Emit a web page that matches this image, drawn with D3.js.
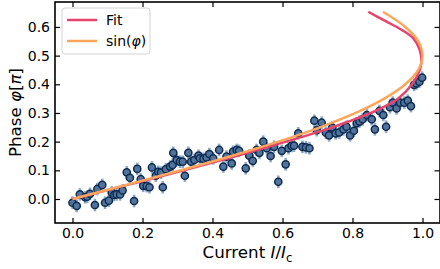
<!DOCTYPE html>
<html>
<head>
<meta charset="utf-8">
<script src="https://cdn.jsdelivr.net/npm/d3@7"></script>
<style>
	body { margin: 0; background: #fff; }
	text { font-family: "DejaVu Sans", sans-serif; fill: #000; }
</style>
</head>
<body>
<div id="chart"></div>
<script>
// measured points: current I/Ic and phase (units of pi)
var current = [0.000, 0.012, 0.021, 0.036, 0.042, 0.050, 0.064, 0.071, 0.085, 0.093,
	0.104, 0.112, 0.119, 0.126, 0.136, 0.143, 0.155, 0.164, 0.176, 0.185,
	0.195, 0.202, 0.212, 0.220, 0.227, 0.238, 0.245, 0.253, 0.258, 0.267,
	0.279, 0.286, 0.288, 0.298, 0.307, 0.315, 0.321, 0.331, 0.339, 0.348,
	0.360, 0.364, 0.374, 0.383, 0.391, 0.402, 0.419, 0.431, 0.440, 0.455,
	0.459, 0.469, 0.476, 0.495, 0.505, 0.515, 0.526, 0.534, 0.545, 0.555,
	0.566, 0.576, 0.588, 0.598, 0.609, 0.617, 0.626, 0.633, 0.645, 0.657,
	0.667, 0.677, 0.691, 0.698, 0.712, 0.724, 0.733, 0.742, 0.752, 0.762,
	0.774, 0.783, 0.793, 0.804, 0.812, 0.820, 0.829, 0.841, 0.855, 0.864,
	0.877, 0.888, 0.896, 0.907, 0.915, 0.926, 0.936, 0.948, 0.958, 0.967,
	0.976, 0.983, 0.991, 0.999];
var phase = [-0.013, -0.024, 0.016, 0.006, 0.008, 0.018, -0.021, 0.035, 0.049, -0.013,
	-0.006, 0.023, 0.014, 0.016, 0.016, 0.030, 0.093, 0.074, -0.007, 0.105,
	0.069, 0.046, 0.045, 0.041, 0.110, 0.081, 0.095, 0.092, 0.041, 0.104,
	0.113, 0.119, 0.161, 0.136, 0.130, 0.130, 0.081, 0.161, 0.130, 0.136,
	0.151, 0.142, 0.140, 0.145, 0.157, 0.142, 0.171, 0.113, 0.148, 0.124,
	0.165, 0.171, 0.168, 0.107, 0.151, 0.133, 0.171, 0.161, 0.200, 0.177,
	0.150, 0.182, 0.060, 0.168, 0.121, 0.177, 0.185, 0.186, 0.229, 0.182,
	0.180, 0.177, 0.273, 0.240, 0.266, 0.231, 0.222, 0.249, 0.229, 0.232,
	0.243, 0.252, 0.222, 0.238, 0.264, 0.270, 0.278, 0.293, 0.278, 0.243,
	0.307, 0.293, 0.252, 0.320, 0.336, 0.316, 0.336, 0.336, 0.343, 0.324,
	0.398, 0.403, 0.409, 0.423];
var phaseErr = 0.022;

// curves (phase -> current)
var fitPhase   = [0.00, 0.05, 0.10, 0.15, 0.20, 0.25, 0.30, 0.35, 0.40, 0.45, 0.48, 0.52, 0.56, 0.59, 0.62, 0.653];
var fitCurrent = [0.000, 0.160, 0.318, 0.468, 0.610, 0.742, 0.852, 0.930, 0.970, 0.992, 0.997, 0.992, 0.974, 0.940, 0.895, 0.845];
var sinPhase   = [0.00, 0.05, 0.10, 0.15, 0.20, 0.25, 0.30, 0.35, 0.40, 0.45, 0.50, 0.55, 0.60, 0.653];
var sinCurrent = [0.000, 0.156, 0.309, 0.454, 0.588, 0.707, 0.809, 0.891, 0.951, 0.988, 1.000, 0.988, 0.951, 0.887];

var xTicks = [0.0, 0.2, 0.4, 0.6, 0.8, 1.0];
var yTicks = [0.0, 0.1, 0.2, 0.3, 0.4, 0.5, 0.6];

var fitColor = "#e8446b", sinColor = "#fca65c";

drawChart("chart");

function drawChart(container){
	var W = 440, H = 269;
	var margin = { top: 2, right: 0, bottom: 46, left: 55 };

	var svg = d3.select("#" + container).append("svg")
		.attr("width", W)
		.attr("height", H);

	var x = d3.scaleLinear().domain([-0.05, 1.05]).range([margin.left, W - margin.right]);
	var y = d3.scaleLinear().domain([-0.0837, 0.687]).range([H - margin.bottom, margin.top]);

	svg.append("clipPath").attr("id", "plotclip")
		.append("rect")
		.attr("x", margin.left).attr("y", margin.top)
		.attr("width", W - margin.right - margin.left)
		.attr("height", H - margin.bottom - margin.top);

	var plot = svg.append("g").attr("clip-path", "url(#plotclip)");

	var pts = current.map(function(d, i){ return { I: d, p: phase[i] }; });

	// error bars
	plot.selectAll(".err")
		.data(pts)
		.enter()
		.append("line")
		.attr("class", "err")
		.attr("x1", function(d){ return x(d.I); })
		.attr("x2", function(d){ return x(d.I); })
		.attr("y1", function(d){ return y(d.p - phaseErr); })
		.attr("y2", function(d){ return y(d.p + phaseErr); })
		.style("stroke", "#8eaacb")
		.style("stroke-width", 2.6);

	plot.selectAll(".dot")
		.data(pts)
		.enter()
		.append("circle")
		.attr("class", "dot")
		.attr("cx", function(d){ return x(d.I); })
		.attr("cy", function(d){ return y(d.p); })
		.attr("r", 3.6)
		.style("fill", "#52739b")
		.style("stroke", "#0d2c52")
		.style("stroke-width", 1.5);

	var line = d3.line()
		.x(function(d){ return x(d[0]); })
		.y(function(d){ return y(d[1]); })
		.curve(d3.curveCatmullRom);

	plot.append("path")
		.datum(fitCurrent.map(function(d, i){ return [d, fitPhase[i]]; }))
		.attr("d", line)
		.style("fill", "none")
		.style("stroke", fitColor)
		.style("stroke-width", 2.5);

	plot.append("path")
		.datum(sinCurrent.map(function(d, i){ return [d, sinPhase[i]]; }))
		.attr("d", line)
		.style("fill", "none")
		.style("stroke", sinColor)
		.style("stroke-width", 2.5);

	// axes: ticks pointing inwards on all four sides
	var tickLen = 5;
	var bottomAxis = d3.axisBottom(x).tickValues(xTicks).tickSizeInner(-tickLen).tickSizeOuter(0)
		.tickPadding(5.5).tickFormat(d3.format(".1f"));
	var topAxis = d3.axisTop(x).tickValues(xTicks).tickSizeInner(-tickLen).tickSizeOuter(0).tickFormat("");
	var leftAxis = d3.axisLeft(y).tickValues(yTicks).tickSizeInner(-tickLen).tickSizeOuter(0)
		.tickPadding(5).tickFormat(d3.format(".1f"));
	var rightAxis = d3.axisRight(y).tickValues(yTicks).tickSizeInner(-tickLen).tickSizeOuter(0).tickFormat("");

	var gb = svg.append("g").attr("transform", "translate(0," + (H - margin.bottom) + ")").call(bottomAxis);
	var gt = svg.append("g").attr("transform", "translate(0," + margin.top + ")").call(topAxis);
	var gl = svg.append("g").attr("transform", "translate(" + margin.left + ",0)").call(leftAxis);
	var gr = svg.append("g").attr("transform", "translate(" + (W - margin.right - 0.5) + ",0)").call(rightAxis);

	[gb, gt, gl, gr].forEach(function(g){
		g.select(".domain").remove();
		g.selectAll(".tick line").style("stroke", "#000").style("stroke-width", 1.2);
		g.selectAll("text").style("font-size", "14px").style("font-family", "DejaVu Sans").style("fill", "#000");
	});

	// frame
	svg.append("rect")
		.attr("x", margin.left).attr("y", margin.top)
		.attr("width", W - margin.right - margin.left)
		.attr("height", H - margin.bottom - margin.top)
		.style("fill", "none")
		.style("stroke", "#000")
		.style("stroke-width", 1.6);

	// axis labels
	var xl = svg.append("text")
		.attr("x", (margin.left + W - margin.right) / 2)
		.attr("y", 258)
		.style("text-anchor", "middle")
		.style("font-size", "16.7px");
	xl.append("tspan").text("Current ");
	xl.append("tspan").style("font-style", "italic").text("I");
	xl.append("tspan").text("/");
	xl.append("tspan").style("font-style", "italic").text("I");
	xl.append("tspan").attr("dy", 3.5).style("font-size", "11.7px").text("c");

	var yl = svg.append("text")
		.attr("transform", "translate(21," + ((margin.top + H - margin.bottom) / 2) + ") rotate(-90)")
		.style("text-anchor", "middle")
		.style("font-size", "16.7px");
	yl.append("tspan").text("Phase ");
	yl.append("tspan").style("font-style", "italic").text("φ");
	yl.append("tspan").text("[");
	yl.append("tspan").style("font-style", "italic").text("π");
	yl.append("tspan").text("]");

	// legend
	var lg = svg.append("g").attr("transform", "translate(62,8)");
	lg.append("rect")
		.attr("width", 88).attr("height", 46)
		.attr("rx", 3).attr("ry", 3)
		.style("fill", "#fff").style("fill-opacity", 0.8)
		.style("stroke", "#d3d3d3").style("stroke-width", 1);

	var entries = [{ color: fitColor, label: ["Fit"] }, { color: sinColor, label: ["sin(", "φ", ")"] }];
	var row = lg.selectAll(".entry")
		.data(entries)
		.enter()
		.append("g")
		.attr("class", "entry")
		.attr("transform", function(d, i){ return "translate(0," + (12 + i * 21) + ")"; });
	row.append("line")
		.attr("x1", 5).attr("x2", 35)
		.style("stroke", function(d){ return d.color; })
		.style("stroke-width", 2.5);
	var lt = row.append("text")
		.attr("x", 44).attr("dy", "0.36em")
		.style("font-size", "14px");
	lt.each(function(d){
		var t = d3.select(this);
		d.label.forEach(function(s, k){
			var ts = t.append("tspan").text(s);
			if (k === 1) ts.style("font-style", "italic");
		});
	});
}
</script>
</body>
</html>
